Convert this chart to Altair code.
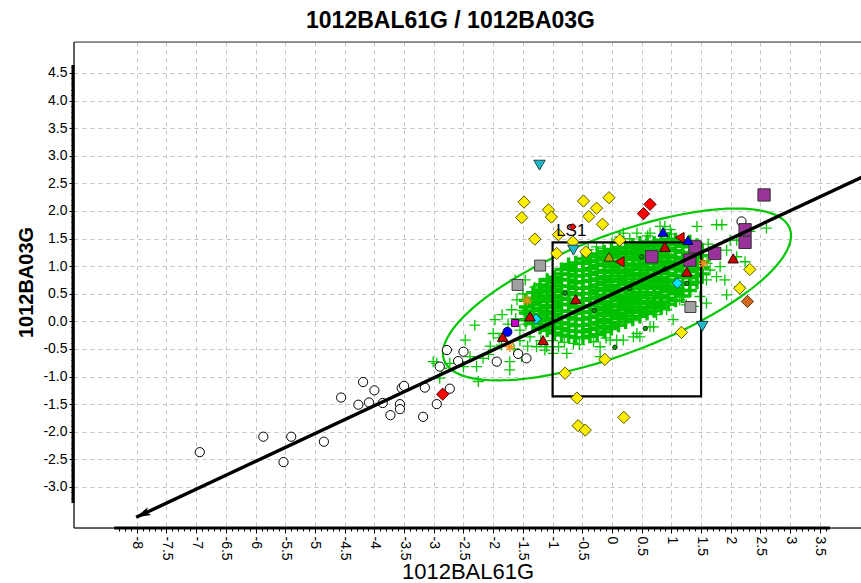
import altair as alt
import pandas as pd
import numpy as np

FONT = "Liberation Sans"
GREEN = "#00c800"

# ---------------- axis ticks ----------------
x_ticks = [-8, -7.5, -7, -6.5, -6, -5.5, -5, -4.5, -4, -3.5, -3, -2.5, -2, -1.5,
           -1, -0.5, 0, 0.5, 1, 1.5, 2, 2.5, 3, 3.5]
y_ticks = [-3.0, -2.5, -2.0, -1.5, -1.0, -0.5, 0.0, 0.5, 1.0, 1.5, 2.0, 2.5,
           3.0, 3.5, 4.0, 4.5]
x_minor = [round(-8.3 + 0.1 * i, 1) for i in range(120)]
y_minor = [round(-3.2 + 0.1 * i, 1) for i in range(79)]

# ---------------- data ----------------
# dense core of green crosses: column x -> y values
core_cols = {
    -1.45: [0.03, 0.15, 0.26, 0.38],
    -1.33: [-0.04, 0.07, 0.19, 0.31, 0.42, 0.52],
    -1.21: [-0.11, 0.01, 0.12, 0.24, 0.36, 0.46, 0.57, 0.66],
    -1.09: [-0.16, -0.05, 0.06, 0.18, 0.29, 0.41, 0.53, 0.63, 0.74],
    -0.97: [-0.21, -0.10, 0.01, 0.13, 0.25, 0.36, 0.47, 0.58, 0.70, 0.80],
    -0.85: [-0.25, -0.13, -0.03, 0.09, 0.19, 0.31, 0.42, 0.54, 0.64, 0.76, 0.86, 0.94],
    -0.73: [-0.27, -0.17, -0.05, 0.07, 0.18, 0.30, 0.40, 0.52, 0.63, 0.75, 0.85, 0.97, 1.03],
    -0.61: [-0.29, -0.18, -0.08, 0.04, 0.14, 0.26, 0.36, 0.48, 0.60, 0.70, 0.82, 0.92, 1.06],
    -0.49: [-0.30, -0.19, -0.07, 0.04, 0.16, 0.26, 0.38, 0.50, 0.60, 0.72, 0.83, 0.93, 1.05, 1.13],
    -0.37: [-0.27, -0.15, -0.05, 0.07, 0.17, 0.29, 0.41, 0.51, 0.62, 0.74, 0.85, 0.96, 1.08, 1.18],
    -0.25: [-0.24, -0.12, -0.02, 0.10, 0.22, 0.32, 0.44, 0.56, 0.66, 0.77, 0.89, 1.01, 1.11, 1.22],
    -0.13: [-0.19, -0.09, 0.03, 0.15, 0.25, 0.36, 0.48, 0.59, 0.71, 0.81, 0.92, 1.04, 1.16, 1.26],
    -0.01: [-0.13, -0.02, 0.10, 0.20, 0.31, 0.43, 0.55, 0.65, 0.76, 0.88, 0.99, 1.09, 1.21, 1.30],
    0.11: [-0.07, 0.05, 0.15, 0.27, 0.38, 0.48, 0.60, 0.72, 0.82, 0.93, 1.05, 1.16, 1.27, 1.34],
    0.23: [-0.01, 0.10, 0.22, 0.32, 0.43, 0.55, 0.67, 0.77, 0.88, 1.00, 1.12, 1.22, 1.33],
    0.35: [0.04, 0.16, 0.26, 0.38, 0.49, 0.60, 0.71, 0.83, 0.94, 1.04, 1.16, 1.27, 1.38],
    0.47: [0.09, 0.20, 0.32, 0.43, 0.53, 0.65, 0.77, 0.87, 0.99, 1.11, 1.21, 1.32, 1.42],
    0.59: [0.14, 0.25, 0.36, 0.48, 0.60, 0.70, 0.81, 0.93, 1.05, 1.15, 1.26, 1.37, 1.44],
    0.71: [0.19, 0.31, 0.42, 0.52, 0.64, 0.76, 0.86, 0.98, 1.10, 1.20, 1.31, 1.42],
    0.83: [0.25, 0.35, 0.47, 0.59, 0.70, 0.80, 0.92, 1.04, 1.15, 1.25, 1.37, 1.47],
    0.95: [0.31, 0.42, 0.54, 0.64, 0.75, 0.87, 0.99, 1.09, 1.20, 1.32, 1.43, 1.49],
    1.07: [0.38, 0.50, 0.60, 0.71, 0.83, 0.95, 1.05, 1.16, 1.28, 1.39, 1.48],
    1.19: [0.46, 0.56, 0.68, 0.80, 0.91, 1.01, 1.13, 1.25, 1.36, 1.46],
    1.31: [0.56, 0.67, 0.79, 0.90, 1.00, 1.12, 1.24, 1.35, 1.44],
    1.43: [0.71, 0.82, 0.94, 1.05, 1.15, 1.27, 1.38],
    1.52: [0.86, 0.97, 1.08, 1.19, 1.29],
}

# scattered green crosses
cross_x = [-2.31, -1.97, -2.47, -2.28, -2.25, -2.95, -1.72, -1.63, -1.46, -1.10, -2.17, -2.08,
           -2.00, -1.86, -1.69, -1.60, -1.55, -1.38, -1.27, -1.13, -0.90, -1.72, -1.52, -2.73,
           -2.50, -2.39, -1.80, -1.16, -1.27, -1.38, -2.87, -3.01, -2.90,
           1.76, 1.85, 2.60, 1.99, 2.24, 2.15, 1.93, 1.65, 1.59, 1.71, 1.43, 0.81, 0.89, 0.42,
           0.13, -0.15, -0.20, -0.31, 0.08, 0.36, 0.70, 1.03, 1.37, 1.48, -0.76, -0.65, -1.10,
           -0.99, 2.10, 1.76, 1.59, 0.47, 0.75, -0.20, 0.42, 0.92, 1.14, 1.82, 0.19, 0.64, 0.98,
           2.10, 2.32, 1.90, -0.26, 1.65, 1.93, 0.64, 0.19, -0.03,
           -1.50, -1.45, -1.62, -1.75, -1.90, -1.55, -1.65, -1.42, -2.05, -1.85, -1.50, -1.30,
           -1.20, -1.00, -0.80, -0.40, 0.00, 0.30, 0.60, 1.00, 1.25, 1.60, 1.62, -0.55, -0.10]
cross_y = [-0.07, 0.03, -0.34, -0.82, -1.09, -0.76, -0.88, 0.75, 0.75, 0.78, -0.67, -0.60,
           -0.22, -0.43, 0.21, 0.39, -0.16, -0.28, -0.46, -0.52, -0.46, -0.73, -0.64, -0.76,
           -0.82, -0.64, -0.22, 0.57, 0.39, 0.03, -0.85, -0.73, -1.03,
           1.75, 1.75, 1.69, 1.47, 1.08, 0.63, 0.48, 0.93, 0.75, 1.29, 1.72, 1.72, 1.72, 1.60,
           1.53, 1.32, -0.46, -0.37, -0.34, -0.28, -0.10, 0.03, 0.27, 0.45, -0.58, -0.40, -0.46,
           -0.58, 1.17, 0.81, 0.33, -0.28, 0.12, -0.64, -0.22, 0.21, 0.39, 0.99, 1.60, 1.60, 1.66,
           1.47, 1.63, 0.75, 1.35, 1.17, 1.29, -0.10, -0.34, -0.34,
           0.20, -0.05, 0.05, -0.05, -0.30, -0.35, -0.50, -0.45, -0.45, 0.12, 0.50, 0.62,
           -0.35, -0.35, -0.38, 1.30, 1.42, 1.50, 1.55, 1.58, 0.30, 1.05, 1.40, -0.42, -0.30]

circle_x = [-6.94, -5.87, -5.40, -5.53, -4.85, -4.56, -4.19, -4.00, -4.27, -4.09, -3.86, -3.73,
            -3.57, -3.57, -3.54, -3.50, -3.15, -3.18, -2.95, -2.90, -2.73, -2.78, -2.50, -2.59,
            -1.94, -1.58, -1.44, 2.18]
circle_y = [-2.37, -2.09, -2.09, -2.55, -2.18, -1.38, -1.10, -1.25, -1.51, -1.47, -1.48, -1.70,
            -1.50, -1.59, -1.21, -1.17, -1.20, -1.73, -1.50, -0.82, -1.22, -0.52, -0.55, -0.72,
            -0.73, -0.59, -0.67, 1.81]

ydiam_x = [-1.48, -1.52, -1.07, -1.02, -0.48, -0.26, -0.39, -0.05, -0.16, -1.30, -0.90, -0.66,
           0.13, -0.44, -0.93, 2.32, 2.15, 1.17, -0.12, -0.79, -0.59, 0.20, -0.57, -0.45]
ydiam_y = [2.16, 1.88, 2.02, 1.89, 2.18, 2.05, 1.90, 2.24, 1.76, 1.49, 1.57, 1.44,
           1.47, 1.26, 1.23, 0.94, 0.60, -0.20, -0.69, -0.94, -1.39, -1.74, -1.89, -1.97]

rdiam_x = [0.64, 0.53, -2.85]
rdiam_y = [2.12, 1.95, -1.32]
rsmall_x = [-0.66]
rsmall_y = [1.71]
brown_x = [2.28]
brown_y = [0.36]
gray_x = [-1.21, -1.59, 1.32]
gray_y = [1.01, 0.66, 0.26]
purple_x = [2.56, 2.24, 2.24, 1.40, 0.67, 1.31, 1.73]
purple_y = [2.29, 1.66, 1.43, 1.35, 1.17, 1.11, 1.23]
cdown_x = [-1.22, 1.52, -0.65]
cdown_y = [2.83, -0.09, 1.29]
cdiam_x = [1.10, -1.28]
cdiam_y = [0.69, 0.04]
rtri_x = [-0.61, -1.16, -1.84, -1.38, 1.26, 2.04, 0.89]
rtri_y = [0.40, -0.34, -0.28, 0.09, 0.90, 1.14, 1.35]
rleft_x = [0.13, 1.14]
rleft_y = [1.08, 1.52]
olive_x = [-0.05]
olive_y = [1.17]
btri_x = [0.86, 1.28]
btri_y = [1.62, 1.47]
bcirc_x = [-1.76]
bcirc_y = [-0.19]
mag_x = [-1.63]
mag_y = [-0.03]
orange_x = [-1.43, -1.72, 1.54]
orange_y = [0.38, -0.46, 1.05]
dot_x = [0.50, 0.05, 0.56, 1.26, -0.79, 0.30, -0.30, 0.90]
dot_y = [1.17, -0.47, -0.13, 0.69, 0.51, 0.60, 0.20, 0.95]

label_text = ["LS1"]
label_x = [-0.94]
label_y = [1.55]

# regression line end points, box, ellipse parameters
reg_x = [-8.01, 4.40]
reg_y = [-3.55, 2.71]
box_x = [-1.0, 1.5]
box_y = [-1.36, 1.43]
ell_center = (0.084, 0.487)
ell_a = (2.909, 1.196)
ell_b = (-0.3546, 0.9983)

# ---------------- frames ----------------
core_df = pd.DataFrame([(x, y) for x, ys in core_cols.items() for y in ys], columns=["x", "y"])
cross_df = pd.DataFrame({"x": cross_x, "y": cross_y})
t = np.radians(np.arange(0, 361, 4))
ell_df = pd.DataFrame({
    "x": ell_center[0] + ell_a[0] * np.cos(t) + ell_b[0] * np.sin(t),
    "y": ell_center[1] + ell_a[1] * np.cos(t) + ell_b[1] * np.sin(t),
    "o": np.arange(len(t)),
})
reg_df = pd.DataFrame({"x": reg_x, "y": reg_y})
tip_df = pd.DataFrame({"x": reg_x[:1], "y": reg_y[:1]})
box_df = pd.DataFrame({"x1": [box_x[0]], "x2": [box_x[1]], "y1": [box_y[0]], "y2": [box_y[1]]})
lab_df = pd.DataFrame({"x": label_x, "y": label_y, "t": label_text})

W, H = 787, 486
xscale = alt.Scale(domain=[-9.057, 4.192], nice=False, zero=False)
yscale = alt.Scale(domain=[-3.744, 5.061], nice=False, zero=False)

MINUS_FIX = "replace(format(datum.value, '.1f'), '\u2212', '-')"

x_major = alt.Axis(
    values=x_ticks, orient="bottom", grid=True, gridDash=[4, 4], gridColor="#c4c4c4",
    gridWidth=1, domain=False, ticks=True, tickSize=5, tickColor="black", tickWidth=1,
    labelAngle=90, labelFontSize=14, labelFont=FONT, labelColor="black", labelPadding=3,
    labelExpr="'' + datum.value", labelOverlap=False, labelFlush=False,
    title="1012BAL61G", titleFont=FONT, titleFontSize=22, titleFontWeight="normal",
    titleColor="black", titleY=50, titleBaseline="alphabetic",
)
y_major = alt.Axis(
    values=y_ticks, orient="left", grid=True, gridDash=[4, 4], gridColor="#c4c4c4",
    gridWidth=1, domain=False, ticks=True, tickSize=5, tickColor="black", tickWidth=1,
    labelFontSize=14, labelFont=FONT, labelColor="black", labelPadding=2,
    labelExpr=MINUS_FIX, labelOverlap=False, labelFlush=False,
    title="1012BA03G", titleFont=FONT, titleFontSize=20, titleFontWeight="bold",
    titleColor="black", titleAngle=-90, titleX=-42, titleY=240, titleAlign="center",
    titleBaseline="alphabetic",
)
x_minor_ax = alt.Axis(values=x_minor, orient="bottom", grid=False, domain=False, labels=False,
                      ticks=True, tickSize=3, tickColor="black", tickWidth=1, title=None)
y_minor_ax = alt.Axis(values=y_minor, orient="left", grid=False, domain=False, labels=False,
                      ticks=True, tickSize=3, tickColor="black", tickWidth=1, title=None)


def X(f, axis=None):
    return alt.X(f, type="quantitative", scale=xscale, axis=axis)


def Y(f, axis=None):
    return alt.Y(f, type="quantitative", scale=yscale, axis=axis)


CROSS = "M-1,0L1,0M0,-1L0,1"
ARROW = "M0,0L0.5,1.7L0,1.3L-0.5,1.7Z"
STAR = "M-1,0L1,0M0,-1L0,1M-0.7,-0.7L0.7,0.7M-0.7,0.7L0.7,-0.7"

core = alt.Chart(core_df).mark_point(shape=CROSS, color="#00c000", strokeWidth=3.4, size=196,
                                     opacity=1, clip=True).encode(
    x=X("x", x_major), y=Y("y", y_major))
scatter = alt.Chart(cross_df).mark_point(shape=CROSS, color=GREEN, strokeWidth=1.3, size=121,
                                         opacity=1, clip=True).encode(
    x=X("x", x_minor_ax), y=Y("y", y_minor_ax))


def pts(xs, ys, shape, fill, stroke="#333333", size=130, sw=1, angle=0):
    df = pd.DataFrame({"x": xs, "y": ys})
    return alt.Chart(df).mark_point(shape=shape, filled=True, fill=fill, stroke=stroke,
                                    strokeWidth=sw, size=size, opacity=1, angle=angle,
                                    clip=True).encode(x=X("x"), y=Y("y"))


dots = pts(dot_x, dot_y, "circle", "#00a000", "#103010", 20)
ellipse = alt.Chart(ell_df).mark_line(color=GREEN, strokeWidth=2.2, clip=True).encode(
    x=X("x"), y=Y("y"), order="o:Q")
box = alt.Chart(box_df).mark_rect(filled=False, stroke="black", strokeWidth=2.2, fill=None,
                                  clip=True).encode(
    x=X("x1"), x2="x2", y=Y("y1"), y2="y2")
label = alt.Chart(lab_df).mark_text(align="left", baseline="alphabetic", fontSize=17,
                                    font=FONT, color="black").encode(
    x=X("x"), y=Y("y"), text="t:N")

circles = alt.Chart(pd.DataFrame({"x": circle_x, "y": circle_y})).mark_point(
    shape="circle", filled=True, fill="white", stroke="black", strokeWidth=1, size=85,
    opacity=1, clip=True).encode(x=X("x"), y=Y("y"))
ydiam = pts(ydiam_x, ydiam_y, "diamond", "#ffee00", "#555500", 150)
rdiam = pts(rdiam_x, rdiam_y, "diamond", "#ff0000", "#550000", 150)
rsmall = pts(rsmall_x, rsmall_y, "diamond", "#ff0000", "#550000", 45)
brown = pts(brown_x, brown_y, "diamond", "#d2691e", "#553311", 150)
gray = pts(gray_x, gray_y, "square", "#a0a0a0", "#404040", 120)
purple = pts(purple_x, purple_y, "square", "#993399", "#333333", 150)
cdown = pts(cdown_x, cdown_y, "triangle-down", "#20b8cc", "#224444", 130)
cdiam = pts(cdiam_x, cdiam_y, "diamond", "#00e5ff", "#225555", 110)
rtri = pts(rtri_x, rtri_y, "triangle-up", "#cc0000", "#330000", 110)
rleft = pts(rleft_x, rleft_y, "triangle-left", "#ff0000", "#550000", 100)
olive = pts(olive_x, olive_y, "triangle-up", "#b0a000", "#333300", 100)
btri = pts(btri_x, btri_y, "triangle-up", "#0000ff", "#000044", 100)
bcirc = pts(bcirc_x, bcirc_y, "circle", "#0000ff", "#000044", 80)
mag = pts(mag_x, mag_y, "square", "#cc00cc", "#330033", 50)
orange = alt.Chart(pd.DataFrame({"x": orange_x, "y": orange_y})).mark_point(
    shape=STAR, color="#ff8c1a", strokeWidth=1.3, size=110, opacity=1, clip=True).encode(
    x=X("x"), y=Y("y"))

reg = alt.Chart(reg_df).mark_line(color="black", strokeWidth=3.4, clip=True).encode(
    x=X("x"), y=Y("y"))
tip = alt.Chart(tip_df).mark_point(shape=ARROW, filled=True, color="black", size=300,
                                   opacity=1, angle=245).encode(x=X("x"), y=Y("y"))

one = pd.DataFrame({"k": [0]})
x_line = alt.Chart(one).mark_rule(color="black", strokeWidth=3).encode(
    x=alt.XDatum(-8.38, scale=xscale, axis=None), x2=alt.X2Datum(3.67),
    y=alt.value(H))
y_line = alt.Chart(one).mark_rule(color="black", strokeWidth=3).encode(
    y=alt.YDatum(-3.29, scale=yscale, axis=None), y2=alt.Y2Datum(4.645),
    x=alt.value(-1))
frame_top = alt.Chart(one).mark_rule(color="#333333", strokeWidth=1.2).encode(
    x=alt.value(0), x2=alt.value(W), y=alt.value(0))
frame_left = alt.Chart(one).mark_rule(color="#333333", strokeWidth=1.5).encode(
    x=alt.value(0), y=alt.value(0), y2=alt.value(H))
frame_bottom = alt.Chart(one).mark_rule(color="#333333", strokeWidth=1.5).encode(
    x=alt.value(0), x2=alt.value(W), y=alt.value(H))

chart = alt.layer(
    core, scatter, dots, ellipse, box,
    circles, ydiam, label, rdiam, rsmall, brown, gray, purple, cdown, cdiam, rtri, rleft,
    olive, btri, bcirc, mag, orange, reg, tip,
    frame_top, frame_left, frame_bottom, x_line, y_line,
).resolve_axis(x="independent", y="independent").properties(
    width=W, height=H,
    padding={"left": 74, "top": 42, "right": 0, "bottom": 55},
    autosize=alt.AutoSizeParams(type="none"),
    title=alt.TitleParams("1012BAL61G / 1012BA03G", font=FONT, fontSize=23, fontWeight="bold",
                          color="black", anchor="middle", dx=-17, dy=24, offset=14,
                          baseline="alphabetic", frame="group"),
).configure_view(stroke=None).configure(background="white")

chart.save("out.html", embed_options={"renderer": "svg", "actions": False})
